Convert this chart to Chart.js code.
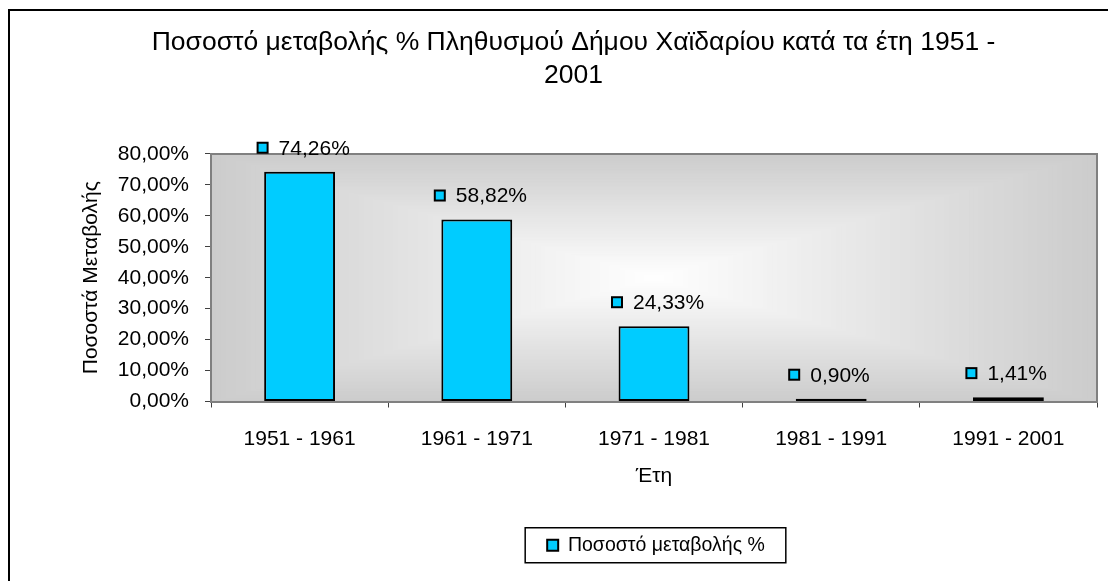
<!DOCTYPE html>
<html>
<head>
<meta charset="utf-8">
<title>Ποσοστό μεταβολής</title>
<script src="https://cdn.jsdelivr.net/npm/chart.js@4.4.0/dist/chart.umd.min.js"></script>
<style>
    html, body { margin: 0; padding: 0; background: #fff; }
    canvas { display: block; }
</style>
</head>
<body>
<canvas id="changeChart" width="1108" height="581"></canvas>
<script>
// data
const periods = ['1951 - 1961', '1961 - 1971', '1971 - 1981', '1981 - 1991', '1991 - 2001'];
const changeValues = [74.26, 58.82, 24.33, 0.90, 1.41];
const seriesName = 'Ποσοστό μεταβολής %';
const chartTitle = ['Ποσοστό μεταβολής % Πληθυσμού Δήμου Χαϊδαρίου κατά τα έτη 1951 -', '2001'];
const yAxisTitle = 'Ποσοστά Μεταβολής';
const xAxisTitle = 'Έτη';
const yMin = 0, yMax = 80, yStep = 10;

const FONT = '"Liberation Sans", Arial, sans-serif';
const BAR_COLOR = '#00CCFF';

function pct(v) {
    return v.toFixed(2).replace('.', ',') + '%';
}

// white page, outer frame and the grey "from center" fill of the plot area
const plotBackground = {
    id: 'plotBackground',
    beforeDraw(chart) {
        const { ctx, chartArea: a } = chart;
        ctx.save();
        ctx.fillStyle = '#fff';
        ctx.fillRect(0, 0, chart.width, chart.height);

        ctx.strokeStyle = '#000';
        ctx.lineWidth = 2;
        ctx.strokeRect(9, 10, chart.width + 40, chart.height + 40);

        const steps = 90;
        const cx = (a.left + a.right) / 2, cy = (a.top + a.bottom) / 2;
        for (let i = 0; i < steps; i++) {
            const t = i / steps;
            const hw = (a.width / 2) * (1 - t), hh = (a.height / 2) * (1 - t);
            const c = Math.round(204 + 51 * t);
            ctx.fillStyle = `rgb(${c},${c},${c})`;
            ctx.fillRect(cx - hw, cy - hh, hw * 2, hh * 2);
        }

        ctx.strokeStyle = '#808080';
        ctx.lineWidth = 2;
        ctx.beginPath();
        ctx.moveTo(a.left, a.top);
        ctx.lineTo(a.right, a.top);
        ctx.lineTo(a.right, a.bottom);
        ctx.stroke();
        ctx.restore();
    }
};

// value labels with the small legend key in front
const valueLabels = {
    id: 'valueLabels',
    afterDatasetsDraw(chart) {
        const { ctx } = chart;
        const meta = chart.getDatasetMeta(0);
        const values = chart.data.datasets[0].data;
        ctx.save();
        ctx.font = '21px ' + FONT;
        ctx.textBaseline = 'middle';
        ctx.textAlign = 'left';
        meta.data.forEach((bar, i) => {
            const y = bar.y - 23;
            ctx.fillStyle = BAR_COLOR;
            ctx.fillRect(bar.x - 42, y - 6, 10, 10);
            ctx.strokeStyle = '#000';
            ctx.lineWidth = 2;
            ctx.strokeRect(bar.x - 42, y - 6, 10, 10);
            ctx.fillStyle = '#000';
            ctx.fillText(pct(values[i]), bar.x - 21, y);
        });
        ctx.restore();
    }
};

// legend sits under the plot area and has a frame
const legendFrame = {
    id: 'legendFrame',
    afterLayout(chart) {
        const lg = chart.legend;
        const dx = (chart.chartArea.left + chart.chartArea.right) / 2 - (lg.left + lg.right) / 2 + 2;
        lg.left += dx;
        lg.right += dx;
    },
    afterDraw(chart) {
        const box = chart.legend.legendHitBoxes[0];
        if (!box) return;
        const { ctx } = chart;
        ctx.save();
        ctx.strokeStyle = '#000';
        ctx.lineWidth = 1.5;
        const cy = box.top + box.height / 2;
        ctx.strokeRect(box.left - 22, cy - 17.5, box.width + 43, 35);
        ctx.restore();
    }
};

new Chart(document.getElementById('changeChart'), {
    type: 'bar',
    data: {
        labels: periods,
        datasets: [{
            label: seriesName,
            data: changeValues,
            backgroundColor: BAR_COLOR,
            borderColor: '#000',
            borderWidth: 2,
            borderSkipped: false,
            barPercentage: 0.4,
            categoryPercentage: 1
        }]
    },
    options: {
        responsive: false,
        animation: false,
        layout: {
            padding: { left: 50, right: 11, top: 0, bottom: 16 }
        },
        plugins: {
            title: {
                display: true,
                text: chartTitle,
                color: '#000',
                font: { family: FONT, size: 26.5, weight: 'normal', lineHeight: 1.245 },
                padding: { top: 26, bottom: 62 }
            },
            legend: {
                position: 'bottom',
                labels: {
                    color: '#000',
                    font: { family: FONT, size: 19.5 },
                    boxWidth: 11,
                    boxHeight: 11,
                    padding: 10
                }
            },
            tooltip: { enabled: false }
        },
        scales: {
            x: {
                grid: {
                    drawOnChartArea: false,
                    color: '#404040',
                    tickLength: 6
                },
                border: { color: '#808080', width: 2 },
                ticks: {
                    color: '#000',
                    padding: 19,
                    maxRotation: 0,
                    minRotation: 0,
                    font: { family: FONT, size: 21 }
                },
                title: {
                    display: true,
                    text: xAxisTitle,
                    color: '#000',
                    font: { family: FONT, size: 21 },
                    padding: { top: 0, bottom: 37 }
                },
                afterFit(scale) { scale.height = 124; }
            },
            y: {
                min: yMin,
                max: yMax,
                grid: {
                    drawOnChartArea: false,
                    color: '#404040',
                    tickLength: 6
                },
                border: { color: '#808080', width: 2 },
                ticks: {
                    stepSize: yStep,
                    color: '#000',
                    padding: 16,
                    font: { family: FONT, size: 21 },
                    callback: v => pct(v)
                },
                title: {
                    display: true,
                    text: yAxisTitle,
                    color: '#000',
                    font: { family: FONT, size: 21 },
                    padding: { top: 29, bottom: 0 }
                },
                afterFit(scale) { scale.width = 161; }
            }
        }
    },
    plugins: [plotBackground, valueLabels, legendFrame]
});
</script>
</body>
</html>
